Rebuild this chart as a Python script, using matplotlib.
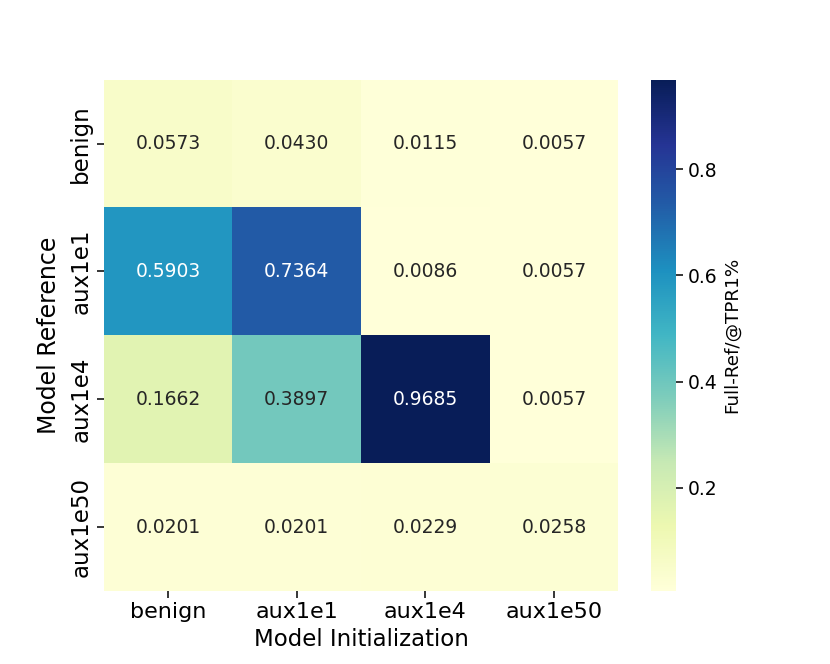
import matplotlib
matplotlib.use("Agg")
import matplotlib.pyplot as plt
import seaborn as sns
import numpy as np

init_labels = ["benign", "aux1e1", "aux1e4", "aux1e50"]
ref_labels = ["benign", "aux1e1", "aux1e4", "aux1e50"]
row_benign = [0.0573, 0.0430, 0.0115, 0.0057]
row_aux1e1 = [0.5903, 0.7364, 0.0086, 0.0057]
row_aux1e4 = [0.1662, 0.3897, 0.9685, 0.0057]
row_aux1e50 = [0.0201, 0.0201, 0.0229, 0.0258]

data = np.array([row_benign, row_aux1e1, row_aux1e4, row_aux1e50])

fig = plt.figure(figsize=(8.3, 6.64), dpi=100)
ax = fig.add_subplot(111)
hm = sns.heatmap(data, annot=True, fmt=".4f", cmap="YlGnBu", ax=ax,
                 annot_kws={"fontsize": 13.5},
                 cbar_kws={"label": "Full-Ref/@TPR1%"})
ax.set_xticklabels(init_labels, fontsize=16, rotation=0)
ax.set_yticklabels(ref_labels, fontsize=16.5, rotation=90, va="center")
ax.set_xlabel("Model Initialization", fontsize=16.5)
ax.set_ylabel("Model Reference", fontsize=17, labelpad=6)
ax.tick_params(length=4.8, width=1.1)
cbar = hm.collections[0].colorbar
cbar.ax.tick_params(labelsize=13.5, length=4.8, width=1.1)
cbar.set_label("Full-Ref/@TPR1%", fontsize=13.2)
cbar.outline.set_visible(False)
fig.savefig("out.png", dpi=100)
